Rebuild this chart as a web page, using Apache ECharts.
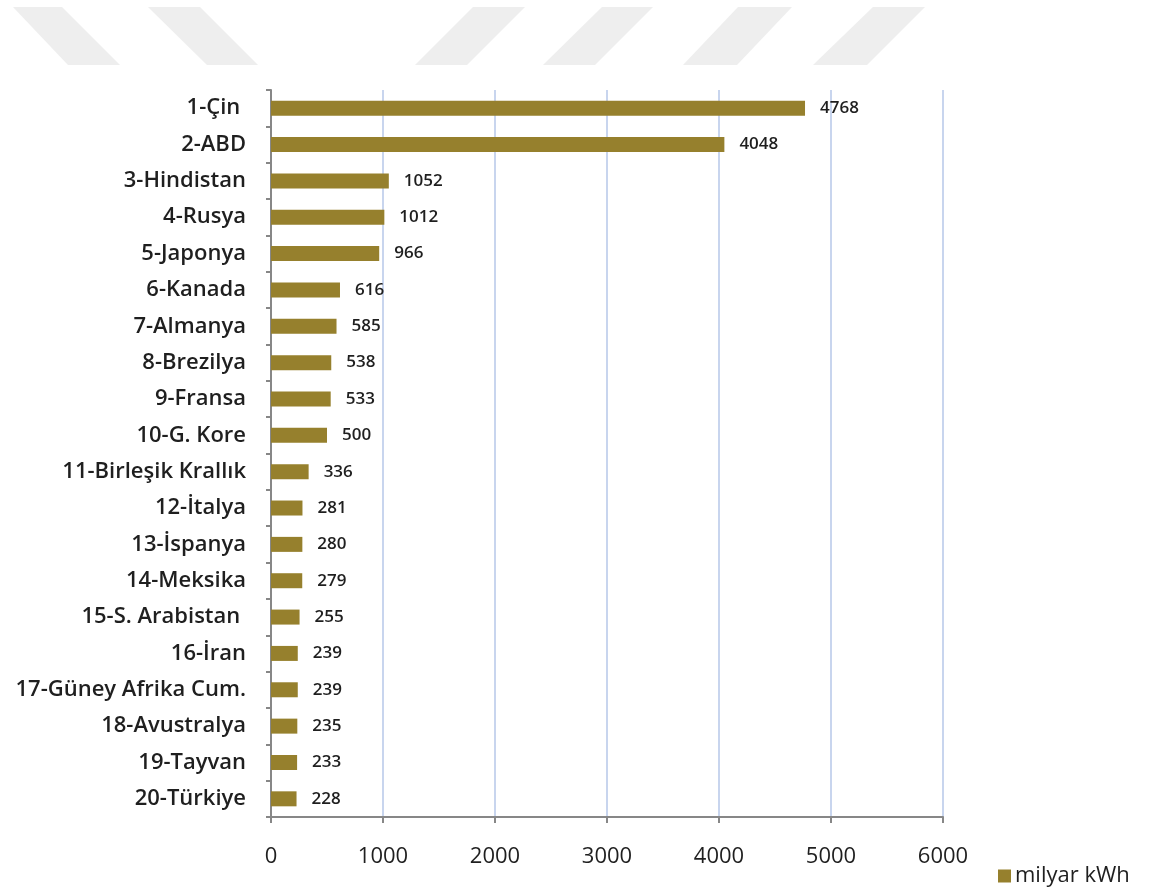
<!DOCTYPE html>
<html>
<head>
<meta charset="utf-8">
<script src="https://cdn.jsdelivr.net/npm/echarts@6/dist/echarts.min.js"></script>
<style>
  html, body { margin: 0; padding: 0; background: #fff; }
  #chart { width: 1156px; height: 890px; }
</style>
</head>
<body>
<div id="chart"></div>
<script>
// Electricity generation by country, billion kWh (top 20)
const countries = [
  '1-Çin ', '2-ABD', '3-Hindistan', '4-Rusya', '5-Japonya', '6-Kanada',
  '7-Almanya', '8-Brezilya', '9-Fransa', '10-G. Kore', '11-Birleşik Krallık',
  '12-İtalya', '13-İspanya', '14-Meksika', '15-S. Arabistan ', '16-İran',
  '17-Güney Afrika Cum.', '18-Avustralya', '19-Tayvan', '20-Türkiye'
];
const generation = [
  4768, 4048, 1052, 1012, 966, 616, 585, 538, 533, 500,
  336, 281, 280, 279, 255, 239, 239, 235, 233, 228
];
const seriesName = 'milyar kWh';
const xTicks = [0, 1000, 2000, 3000, 4000, 5000, 6000];

const font = '"Open Sans", "Noto Sans", sans-serif';
const barColor = '#96802d';
const textColor = '#1f1f1f';

// light diagonal stripes across the top of the page
const stripes = [
  [[13, 7], [62, 7], [120, 65], [68, 65]],
  [[148, 7], [200, 7], [258, 65], [207, 65]],
  [[473, 7], [525, 7], [467, 65], [415, 65]],
  [[602, 7], [653, 7], [595, 65], [543, 65]],
  [[738, 7], [792, 7], [737, 65], [683, 65]],
  [[873, 7], [925, 7], [867, 65], [813, 65]]
];

const chart = echarts.init(document.getElementById('chart'), null, { renderer: 'canvas' });
chart.setOption({
  backgroundColor: '#ffffff',
  animation: false,
  graphic: stripes.map(pts => ({
    type: 'polygon',
    silent: true,
    z: -10,
    shape: { points: pts },
    style: { fill: '#eeeeee' }
  })),
  grid: { left: 271, right: 213, top: 90, bottom: 73, containLabel: false },
  legend: {
    data: [seriesName],
    left: 993,
    top: 860,
    itemWidth: 13,
    itemHeight: 13,
    itemGap: 6,
    icon: 'rect',
    textStyle: { fontFamily: font, fontSize: 22, color: textColor, padding: [0, 0, 0, -1] }
  },
  xAxis: {
    type: 'value',
    min: xTicks[0],
    max: xTicks[xTicks.length - 1],
    interval: 1000,
    axisLine: { show: true, lineStyle: { color: '#878787', width: 2 } },
    axisTick: { show: true, length: 6, lineStyle: { color: '#878787', width: 2 } },
    axisLabel: {
      margin: 29,
      fontFamily: font,
      fontSize: 22,
      color: textColor,
      formatter: v => String(v)
    },
    splitLine: { show: true, lineStyle: { color: '#c8d5ee', width: 2 } }
  },
  yAxis: {
    type: 'category',
    data: countries,
    inverse: true,
    axisLine: { show: true, lineStyle: { color: '#878787', width: 2 } },
    axisTick: { show: true, length: 5, alignWithLabel: false, lineStyle: { color: '#878787', width: 2 } },
    axisLabel: {
      margin: 25,
      fontFamily: font,
      fontSize: 22,
      fontWeight: 600,
      color: textColor
    },
    splitLine: { show: false }
  },
  series: [{
    name: seriesName,
    type: 'bar',
    data: generation,
    barWidth: 15,
    itemStyle: { color: barColor },
    label: {
      show: true,
      position: 'right',
      distance: 15,
      fontFamily: font,
      fontSize: 17,
      fontWeight: 600,
      color: textColor
    }
  }]
});
</script>
</body>
</html>
